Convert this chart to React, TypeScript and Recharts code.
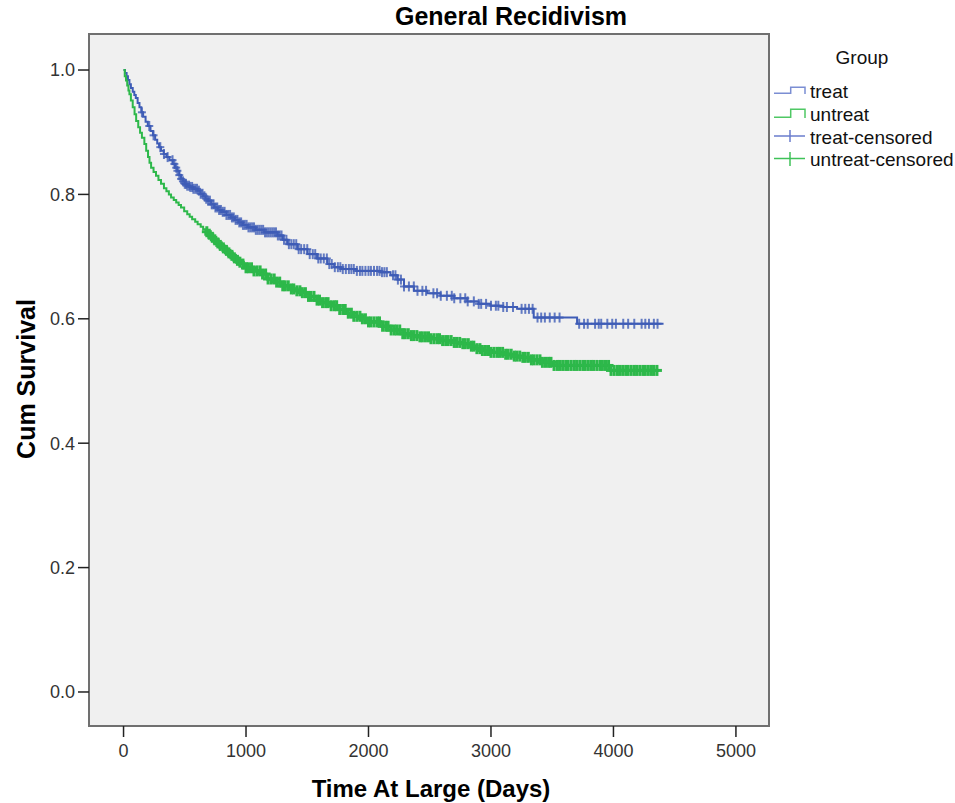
import React from 'react';
import {
  ComposedChart,
  Line,
  Scatter,
  XAxis,
  YAxis,
  ReferenceArea,
  Legend,
} from 'recharts';

// Kaplan-Meier step points: [day, cumulative survival]
const treatTimes = [0, 12, 25, 36, 48, 60, 75, 88, 100, 115, 130, 145, 160, 180, 198, 220, 240, 258, 275, 290, 306, 328, 350, 375, 402, 420, 440, 455, 469, 485, 500, 520, 540, 570, 605, 628, 650, 670, 690, 715, 741, 770, 800, 840, 877, 910, 940, 975, 1013, 1080, 1149, 1258, 1300, 1339, 1420, 1502, 1580, 1665, 1720, 1774, 1900, 2100, 2180, 2235, 2290, 2371, 2480, 2588, 2700, 2806, 2900, 2996, 3100, 3213, 3349, 3675, 3703, 4409];
const treatSurv = [1.0, 0.995, 0.99, 0.984, 0.977, 0.971, 0.965, 0.96, 0.955, 0.947, 0.94, 0.932, 0.925, 0.917, 0.91, 0.902, 0.895, 0.888, 0.882, 0.876, 0.87, 0.865, 0.86, 0.855, 0.849, 0.843, 0.838, 0.831, 0.825, 0.821, 0.817, 0.814, 0.812, 0.809, 0.806, 0.801, 0.797, 0.793, 0.79, 0.784, 0.779, 0.775, 0.772, 0.767, 0.763, 0.759, 0.755, 0.751, 0.747, 0.743, 0.739, 0.734, 0.727, 0.72, 0.712, 0.704, 0.697, 0.688, 0.683, 0.68, 0.677, 0.675, 0.67, 0.663, 0.652, 0.645, 0.641, 0.637, 0.633, 0.628, 0.624, 0.621, 0.619, 0.616, 0.602, 0.602, 0.592, 0.592];

const untreatTimes = [0, 10, 20, 30, 40, 48, 60, 75, 90, 103, 120, 135, 150, 170, 185, 200, 212, 225, 245, 265, 285, 306, 330, 350, 370, 388, 410, 430, 450, 469, 495, 520, 540, 560, 585, 605, 630, 650, 670, 687, 710, 730, 755, 780, 800, 822, 845, 870, 895, 920, 940, 958, 980, 1000, 1060, 1121, 1180, 1240, 1285, 1350, 1400, 1447, 1500, 1560, 1620, 1692, 1750, 1820, 1880, 1936, 2000, 2098, 2180, 2263, 2350, 2420, 2507, 2600, 2680, 2751, 2820, 2880, 2915, 3000, 3100, 3180, 3240, 3320, 3420, 3512, 3700, 3892, 3974, 4370];
const untreatSurv = [1.0, 0.99, 0.983, 0.975, 0.967, 0.961, 0.951, 0.94, 0.929, 0.918, 0.908, 0.899, 0.891, 0.881, 0.87, 0.86, 0.851, 0.843, 0.836, 0.83, 0.823, 0.817, 0.81, 0.805, 0.8, 0.795, 0.791, 0.787, 0.783, 0.779, 0.773, 0.768, 0.764, 0.76, 0.756, 0.752, 0.748, 0.744, 0.74, 0.736, 0.731, 0.727, 0.722, 0.718, 0.714, 0.71, 0.706, 0.702, 0.698, 0.694, 0.691, 0.688, 0.685, 0.682, 0.677, 0.672, 0.664, 0.659, 0.653, 0.648, 0.645, 0.642, 0.636, 0.63, 0.626, 0.621, 0.615, 0.609, 0.604, 0.6, 0.595, 0.588, 0.582, 0.576, 0.573, 0.571, 0.568, 0.565, 0.562, 0.56, 0.556, 0.552, 0.549, 0.546, 0.543, 0.54, 0.538, 0.534, 0.53, 0.525, 0.525, 0.525, 0.517, 0.517];

// Censoring times (days)
const treatCensored = [150, 210, 245, 300, 330, 360, 400, 415, 430, 440, 455, 470, 485, 500, 510, 520, 535, 545, 560, 570, 585, 600, 615, 630, 645, 660, 675, 690, 705, 720, 735, 750, 765, 780, 795, 810, 825, 840, 855, 870, 885, 900, 915, 930, 945, 960, 975, 990, 1005, 1020, 1035, 1050, 1065, 1080, 1095, 1110, 1125, 1140, 1155, 1170, 1185, 1200, 1215, 1230, 1245, 1260, 1275, 1290, 1310, 1330, 1350, 1370, 1390, 1410, 1430, 1450, 1475, 1500, 1520, 1545, 1565, 1590, 1610, 1635, 1660, 1680, 1700, 1725, 1750, 1770, 1790, 1815, 1840, 1860, 1880, 1905, 1930, 1950, 1975, 2000, 2020, 2045, 2070, 2090, 2110, 2130, 2150, 2200, 2220, 2240, 2265, 2290, 2330, 2370, 2400, 2440, 2470, 2530, 2560, 2590, 2640, 2680, 2700, 2750, 2790, 2810, 2860, 2900, 2920, 2960, 3000, 3040, 3060, 3100, 3130, 3180, 3250, 3280, 3310, 3340, 3380, 3410, 3440, 3480, 3520, 3560, 3720, 3760, 3790, 3850, 3880, 3900, 3950, 3990, 4020, 4080, 4120, 4170, 4230, 4260, 4290, 4330, 4360];
const untreatCensored = [680, 700, 725, 745, 770, 790, 815, 840, 860, 885, 905, 930, 950, 975, 1000, 1020, 1045, 1065, 1090, 1115, 1135, 1160, 1180, 1205, 1230, 1250, 1275, 1300, 1320, 1345, 1370, 1390, 1415, 1440, 1460, 1485, 1510, 1530, 1555, 1580, 1600, 1625, 1650, 1670, 1695, 1720, 1740, 1765, 1790, 1810, 1835, 1860, 1880, 1905, 1930, 1950, 1975, 2000, 2020, 2045, 2070, 2090, 2115, 2140, 2160, 2185, 2210, 2230, 2255, 2280, 2300, 2325, 2350, 2370, 2395, 2420, 2440, 2465, 2490, 2510, 2535, 2560, 2580, 2605, 2630, 2650, 2675, 2700, 2720, 2745, 2770, 2790, 2815, 2840, 2860, 2885, 2910, 2930, 2955, 2980, 3000, 3025, 3050, 3070, 3095, 3120, 3140, 3165, 3190, 3210, 3235, 3260, 3280, 3305, 3330, 3350, 3375, 3400, 3420, 3445, 3470, 3490, 3515, 3540, 3560, 3585, 3610, 3630, 3655, 3680, 3700, 3725, 3750, 3770, 3795, 3820, 3840, 3865, 3890, 3910, 3935, 3960, 3980, 4005, 4030, 4050, 4075, 4100, 4120, 4145, 4170, 4190, 4215, 4240, 4260, 4285, 4310, 4330, 4355];

const xTicks = [0, 1000, 2000, 3000, 4000, 5000];
const yTicks = [0, 0.2, 0.4, 0.6, 0.8, 1.0];

const X_MIN = -282;
const X_MAX = 5270;
const Y_MIN = -0.0547;
const Y_MAX = 1.0579;

const BLUE = '#3e5cb6';
const GREEN = '#2db84a';
const FONT = '"Liberation Sans", Arial, sans-serif';

const toSeries = (times: number[], surv: number[]) => times.map((t, i) => ({ t, s: surv[i] }));
const stepValue = (times: number[], surv: number[], t: number) => {
  let v = surv[0];
  for (let i = 0; i < times.length; i++) {
    if (times[i] <= t) v = surv[i];
    else break;
  }
  return v;
};
const toCensored = (cens: number[], times: number[], surv: number[]) =>
  cens.map((t) => ({ t, s: stepValue(times, surv, t) }));

const treatData = toSeries(treatTimes, treatSurv);
const untreatData = toSeries(untreatTimes, untreatSurv);
const treatCens = toCensored(treatCensored, treatTimes, treatSurv);
const untreatCens = toCensored(untreatCensored, untreatTimes, untreatSurv);

const makeCross = (color: string, hw: number, hh: number, sw: number, op: number) => (props: any) => {
  const { cx, cy } = props;
  if (cx == null || cy == null) return <g />;
  return (
    <g stroke={color} strokeWidth={sw} strokeOpacity={op}>
      <line x1={cx - hw} x2={cx + hw} y1={cy} y2={cy} />
      <line x1={cx} x2={cx} y1={cy - hh} y2={cy + hh} />
    </g>
  );
};

const LegendBox = () => (
  <svg width={185} height={140} style={{ display: 'block' }}>
    <text x={92} y={24} textAnchor="middle" fontFamily={FONT} fontSize={19} fill="#111">Group</text>
    <path d="M4 53.3 H20.7 V47.3 H35 V54" fill="none" stroke="#7b8ed3" strokeWidth={1.5} />
    <text x={40} y={58} fontFamily={FONT} fontSize={19} fill="#111">treat</text>
    <path d="M4 77.3 H20.7 V69.3 H35 V78" fill="none" stroke="#4fc864" strokeWidth={1.5} />
    <text x={40} y={81} fontFamily={FONT} fontSize={19} fill="#111">untreat</text>
    <line x1={4} x2={35} y1={96} y2={96} stroke="#6a7dcc" strokeWidth={1.5} />
    <line x1={20} x2={20} y1={90} y2={102} stroke="#6a7dcc" strokeWidth={1.5} />
    <text x={40} y={103.5} fontFamily={FONT} fontSize={19} fill="#111">treat-censored</text>
    <line x1={4} x2={35} y1={118.5} y2={118.5} stroke="#3fc258" strokeWidth={1.5} />
    <line x1={20} x2={20} y1={112} y2={126} stroke="#3fc258" strokeWidth={1.5} />
    <text x={40} y={126} fontFamily={FONT} fontSize={19} fill="#111">untreat-censored</text>
  </svg>
);

const XTitle = () => (
  <text x={431} y={797} textAnchor="middle" fontFamily={FONT} fontWeight="bold" fontSize={24} fill="#000">
    Time At Large (Days)
  </text>
);
const YTitle = () => (
  <text
    x={35}
    y={379}
    textAnchor="middle"
    transform="rotate(-90, 35, 379)"
    fontFamily={FONT}
    fontWeight="bold"
    fontSize={25}
    fill="#000"
  >
    Cum Survival
  </text>
);

export default function App() {
  return (
    <div style={{ position: 'absolute', left: 0, top: 0, width: 955, height: 803, background: '#fff' }}>
      <div
        style={{
          position: 'absolute',
          left: 0,
          width: 1022,
          top: 4,
          textAlign: 'center',
          fontFamily: FONT,
          fontWeight: 'bold',
          fontSize: 25,
          lineHeight: '25px',
          color: '#000',
          whiteSpace: 'nowrap',
          zIndex: 2,
        }}
      >
        General Recidivism
      </div>
      <ComposedChart width={955} height={803} margin={{ top: 34, right: 186, bottom: 17, left: 9 }}>
        <ReferenceArea
          x1={X_MIN}
          x2={X_MAX}
          y1={Y_MIN}
          y2={Y_MAX}
          fill="#f0f0f0"
          fillOpacity={1}
          stroke="#707070"
          strokeWidth={2}
          ifOverflow="visible"
        />
        <XAxis
          type="number"
          dataKey="t"
          domain={[X_MIN, X_MAX]}
          allowDataOverflow
          ticks={xTicks}
          height={60}
          axisLine={false}
          tickSize={11}
          tickMargin={7}
          tickLine={{ stroke: '#222', strokeWidth: 1.5 }}
          tick={{ fill: '#333', fontSize: 18, fontFamily: FONT }}
          label={{ content: XTitle }}
        />
        <YAxis
          type="number"
          dataKey="s"
          domain={[Y_MIN, Y_MAX]}
          allowDataOverflow
          ticks={yTicks}
          width={80}
          axisLine={false}
          tickSize={11}
          tickMargin={3}
          tickLine={{ stroke: '#222', strokeWidth: 1.5 }}
          tick={{ fill: '#333', fontSize: 18, fontFamily: FONT }}
          tickFormatter={(v: number) => v.toFixed(1)}
          label={{ content: YTitle }}
        />
        <Legend
          layout="vertical"
          align="center"
          verticalAlign="middle"
          content={LegendBox}
          wrapperStyle={{ left: 770, top: 40, width: 185, height: 140 }}
        />
        <Line
          data={treatData}
          dataKey="s"
          type="stepAfter"
          stroke={BLUE}
          strokeWidth={2}
          dot={false}
          isAnimationActive={false}
          legendType="none"
        />
        <Scatter
          data={treatCens}
          dataKey="s"
          shape={makeCross(BLUE, 4, 5, 2, 0.8)}
          isAnimationActive={false}
          legendType="none"
        />
        <Line
          data={untreatData}
          dataKey="s"
          type="stepAfter"
          stroke={GREEN}
          strokeWidth={2}
          dot={false}
          isAnimationActive={false}
          legendType="none"
        />
        <Scatter
          data={untreatCens}
          dataKey="s"
          shape={makeCross(GREEN, 5, 5.5, 3, 1)}
          isAnimationActive={false}
          legendType="none"
        />
      </ComposedChart>
    </div>
  );
}
